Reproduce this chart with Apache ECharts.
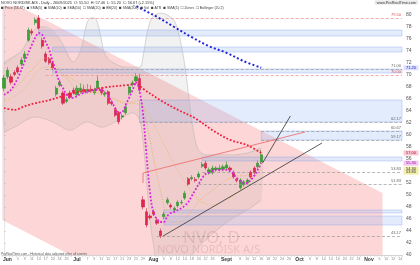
<!DOCTYPE html>
<html><head><meta charset="utf-8">
<script src="https://cdn.jsdelivr.net/npm/echarts@6/dist/echarts.min.js"></script>
<style>html,body{margin:0;padding:0;background:#fff}#c{width:420px;height:265px}</style>
</head><body><div id="c"></div>
<script>
// ---------- data ----------
const dayLists = [
  ['May', [30]],
  ['Jun', [2,3,4,5,6,9,10,11,12,13,16,17,18,20,23,24,25,26,27,30]],
  ['Jul', [1,2,3,7,8,9,10,11,14,15,16,17,18,21,22,23,24,25,28,29,30,31]],
  ['Aug', [1,4,5,6,7,8,11,12,13,14,15,18,19,20,21,22,25,26,27,28,29]],
  ['Sept',[2,3,4,5,8,9,10,11,12,15,16,17,18,19,22,23,24,25,26,29,30]],
  ['Oct', [1,2,3,6,7,8,9,10,13,14,15,16,17,20,21,22,23,24,27,28]],
  ['Nov', [3,4,5,6,7,10,11,12,13,14]]
];
// [open, close, low, high]
const candles = [
 [67.8,69.5,67.3,70.0],[69.7,70.8,69.3,71.3],[69.7,68.8,68.4,70.2],[70.4,70.1,69.8,70.8],[71.2,70.5,70.2,71.6],
 [71.8,72.5,71.5,72.9],[72.8,73.5,72.5,74.0],[75.8,77.5,75.5,77.9],[77.3,77.0,76.6,77.7],[78.7,79.2,78.3,79.6],
 [79.5,77.8,77.5,80.0],[75.8,74.8,74.4,76.2],[73.5,72.3,72.0,73.9],[72.7,72.0,71.7,73.0],[72.0,71.2,70.8,72.3],
 [66.8,67.8,66.4,68.2],[68.3,68.8,68.0,69.2],[67.0,65.3,65.0,67.4],[65.6,65.9,65.3,66.3],[67.0,66.3,66.0,67.4],
 [67.5,67.0,66.7,67.9],[66.7,67.8,66.4,68.3],[67.2,67.8,66.9,68.6],[67.6,67.2,66.9,68.4],[67.2,67.6,66.9,68.5],
 [67.6,67.3,67.0,68.3],[67.0,67.5,66.7,67.9],[67.8,69.0,67.5,69.8],[67.6,67.0,66.7,68.0],[66.7,67.0,66.4,67.3],
 [67.2,65.3,65.0,67.5],[65.5,65.2,64.9,65.8],[64.2,63.3,63.0,64.5],[63.7,62.2,61.8,64.0],[63.0,63.2,62.6,63.5],
 [63.7,64.7,63.4,65.0],[67.0,68.0,66.6,68.4],[68.4,68.7,68.1,69.1],[69.0,69.7,68.7,70.3],[69.4,67.5,67.2,70.2],
 [49.2,48.0,47.6,49.8],[47.2,45.0,44.6,47.8],[46.5,46.2,45.9,46.8],[47.2,46.8,46.5,47.6],[45.8,45.3,45.0,46.2],
 [44.0,43.2,42.8,44.4],[46.4,46.8,46.0,47.2],[48.7,49.2,48.4,49.6],[48.3,48.0,47.7,48.6],[47.5,47.8,47.2,48.1],
 [48.2,48.8,47.9,49.1],[48.7,48.8,48.4,49.2],[49.5,50.3,49.2,50.7],[52.7,51.8,51.5,53.0],[52.7,52.9,52.4,53.3],
 [52.6,52.4,52.1,53.0],[53.0,53.5,52.7,53.9],[54.8,55.1,54.5,55.5],[55.3,54.5,54.2,55.7],[53.7,54.2,53.4,54.6],
 [53.7,54.5,53.4,54.9],[54.2,54.5,53.9,54.8],[54.2,54.5,53.9,55.0],[54.3,54.7,54.0,55.1],[54.5,55.0,54.2,55.6],
 [54.5,54.2,53.9,54.8],[53.8,53.0,52.7,54.1],[52.6,52.4,52.1,52.9],[51.2,52.5,50.9,52.8],[51.7,52.2,51.4,52.5],
 [52.0,52.5,51.7,52.8],[53.8,53.0,52.7,54.1],[54.5,53.7,53.4,54.8],[54.7,55.3,54.4,55.7],[55.5,56.7,55.2,57.5]
];
const sma5 = [[0,66.7],[2,67.5],[4,69.5],[6,72.3],[8,75],[9,76.2],[10,77],[11,76.7],[12,75.5],[13,74.2],[14,72.3],[15,70.5],[16,68.8],[17,67.8],[18,66.7],[19,66.2],[20,66.2],[21,66.5],[22,66.8],[24,67.2],[26,67.5],[28,67.5],[30,66.5],[31,65.5],[32,64.5],[33,63.7],[34,63.8],[35,65],[36,66.2],[37,67.5],[38,68.8],[39,67.3],[40,63.5],[41,56.7],[42,50.5],[43,47],[44,46],[45,45.5],[46,45.5],[47,46.5],[48,47],[49,47.2],[50,47.5],[51,47.8],[52,48.2],[53,48.8],[54,49.8],[55,50.8],[56,51.8],[57,52.8],[58,53.5],[59,53.7],[60,54],[61,54.2],[62,54.2],[63,54.2],[64,54.2],[65,54],[66,53.5],[67,52.8],[68,52.3],[69,52],[70,52],[71,52.5],[72,53.2],[73,54.2],[74,55.3]];
const sma10 = [[0,66.7],[4,68.3],[8,70.8],[12,72.8],[15,71.5],[19,68.8],[22,67.2],[27,67.2],[31,66.3],[35,65.2],[39,65.8],[40,65],[42,59.2],[45,50.8],[48,45.5],[51,45.5],[54,47.5],[57,49.5],[60,50.8],[64,52.5],[68,53.2],[72,53.2],[74,54.3]];
const sma20 = [[0,65.5],[5,67.2],[12,71.3],[19,69.5],[25,67.5],[31,66],[37,65.3],[40,64.8],[44,60.8],[48,56.2],[52,52.2],[56,49.2],[60,48.3],[64,49.2],[68,50.8],[71,52.5],[74,53.8]];
const sma50 = [[0,64.5],[3,64.2],[6,64.8],[9,65.3],[13,65.8],[17,66.5],[20,67],[25,67.5],[30,68],[35,68.3],[38,68.5],[40,67.7],[45,65.8],[50,64.2],[55,62.8],[60,60.8],[65,59.2],[70,58.3],[74,57]];
const sma200 = [[36,82.2],[39,81.2],[44,79.7],[49,78],[54,76.3],[59,74.8],[64,73.7],[69,72.3],[74,71.2]];
const bbUpper = [[0,72],[5,74],[8,77],[10,78],[12,78],[16,76],[20,72.2],[22,74],[23,76.5],[24,78.8],[25,79.5],[26,79.5],[27,78.5],[28,76],[29,73.5],[31,72.2],[35,71.3],[39,71.3],[40,73],[41,76.5],[42,78.8],[43,79.8],[45,80.3],[47,80],[49,79],[50,77.5],[51,75],[52,71.7],[53,67.2],[54,62.5],[55,59.2],[56,57.5],[58,56.7],[62,56.7],[66,56.7],[70,57],[74,57.8]];
const bbLower = [[0,60.5],[3,61.3],[9,63],[14,62.2],[19,60.8],[24,62.2],[28,61.3],[33,62.5],[37,63.7],[39,62.5],[40,59],[41,52.5],[42,45.8],[43,41.7],[44,38.5],[46,36.5],[50,37],[54,40],[58,42.5],[62,44.5],[66,46.2],[70,47.5],[74,49.2]];
// regression channel: upper line, lower line, middle line (start/end)
const channelTop = [[-0.5,82.87],[108.9,50.32]];
const channelBottom = [[-0.5,45.83],[108.9,13.3]];
const channelMid = [[-0.5,64.33],[108.9,31.8]];
// zones: [top, bottom, startIndex]
const zones = [[77.5,76.5,10],[74.67,73.83,14],[71.0,70.33,14],[65.83,62.17,39],[60.67,59.17,74],[56.33,55.67,57],[47.5,47.0,46],[46.5,45.0,46]];
// level lines: [value, startIndex]
const grayLevels = [[71.0,12],[62.17,39],[60.67,74],[59.17,74],[53.83,57],[51.83,56],[43.17,44]];
const redLevels = [[79.5,12],[70.0,12]];
// trend lines
const resistLine = [[40,52.0],[40,53.67],[86.6,60.5]];
const supportA = [[45.8,43.17],[91.5,58.67]];
const supportB = [[74.4,55.33],[82.4,63.17]];

// ---------- build ----------
const categories = [], monthStart = new Set();
dayLists.forEach(([m, ds]) => ds.forEach((d, k) => {
  if (k === 0 && m !== 'May') monthStart.add(categories.length);
  categories.push(m + ' ' + d);
}));
function nearMonth(i){ for (let k=-2;k<=2;k++) if (k!==0 && monthStart.has(i+k)) return true; return false; }
const FONT = 'Liberation Sans';
const chart = echarts.init(document.getElementById('c'), null, {renderer:'canvas'});

function polyClip(params, pts, style){
  const cs = params.coordSys;
  return {type:'group', clipPath:{type:'rect', shape:{x:cs.x, y:cs.y, width:cs.width, height:cs.height}},
    children:[{type:'polygon', shape:{points:pts, smooth: style.smooth||0}, style:{fill:style.fill}}]};
}
function maLine(name, data, color, width, type, z){
  return {name, type:'line', xAxisIndex:1, data, smooth:0.35, showSymbol:false, silent:true, z:z||4,
    lineStyle:{color, width, type}, emphasis:{disabled:true}};
}
function tag(v, bg, fg){
  return {markPoint:{silent:true, data:[{coord:[114.5, v], symbol:'rect', symbolSize:[15,5], symbolOffset:[9,0],
    itemStyle:{color:bg}, label:{show:true, position:'inside', fontSize:4, color:fg, formatter:v.toFixed(2)}}]}};
}

const series = [];
// pink channel
series.push({type:'custom', xAxisIndex:1, z:0, silent:true, data:[0],
  renderItem:(params, api) => {
    const pts = [channelTop[0], channelTop[1], channelBottom[1], channelBottom[0]].map(p => api.coord(p));
    return polyClip(params, pts, {fill:'rgba(250,160,160,0.42)'});
  }});
// Bollinger fill
series.push({type:'custom', xAxisIndex:1, z:1, silent:true, data:[0],
  renderItem:(params, api) => {
    const pts = bbUpper.map(p => api.coord(p)).concat(bbLower.slice().reverse().map(p => api.coord(p)));
    return polyClip(params, pts, {fill:'rgba(110,110,110,0.09)', smooth:0.25});
  }});
series.push(maLine('BB up', bbUpper, '#b8b8b8', 0.6, 'solid', 1));
series.push(maLine('BB low', bbLower, '#c4b4b4', 0.6, 'solid', 1));
// zones and level lines
const lvlLabel = (color, v) => ({show:true, position:'insideEndTop', fontSize:4, color, distance:1, formatter:v.toFixed(2)});
series.push({type:'line', xAxisIndex:1, z:1, data:[[200,0]], silent:true, showSymbol:false,
  markArea:{silent:true, itemStyle:{color:'rgba(140,175,245,0.24)', borderColor:'rgba(120,150,235,0.55)', borderWidth:0.6},
    data: zones.map(z => [{coord:[z[2], z[0]]}, {coord:[114.5, z[1]]}])},
  markLine:{silent:true, symbol:'none', animation:false,
    data: grayLevels.map(l => [{coord:[l[1], l[0]], lineStyle:{color:'#9a9a9a', type:[3,2], width:0.7}, label:lvlLabel('#666', l[0])}, {coord:[114.5, l[0]]}])
      .concat(redLevels.map(l => [{coord:[l[1], l[0]], lineStyle:{color:'#f08a8a', type:[3,2], width:0.7}, label:lvlLabel('#e05050', l[0])}, {coord:[114.5, l[0]]}]))
      .concat([
        [{coord:channelTop[0], lineStyle:{color:'#e85454', width:1, type:'solid'}, label:{show:true, position:'insideEndBottom', fontSize:4, color:'#e04040', borderColor:'#e86060', borderWidth:0.5, padding:[0,1], formatter:'50.32 ▼'}}, {coord:channelTop[1]}],
        [{coord:channelMid[0], lineStyle:{color:'rgba(220,110,110,0.35)', width:0.6, type:'solid'}, label:{show:false}}, {coord:channelMid[1]}]
      ])}
});
// candles
series.push({type:'candlestick', xAxisIndex:0, z:3, data:candles, barWidth:2.7, silent:true,
  itemStyle:{color:'#3aa335', color0:'#e3264d', borderColor:'#2f8f2b', borderColor0:'#cc1f44', borderWidth:0.6}});
// moving averages
series.push(Object.assign(maLine('SMA(20)', sma20, '#e6b75c', 0.8, [1,1.5], 4), tag(sma20[sma20.length-1][1], '#f3eeaa', '#333')));
series.push(Object.assign(maLine('SMA(10)', sma10, '#e0a85a', 0.8, [1,1.5], 4), tag(sma10[sma10.length-1][1], '#f3eeaa', '#333')));
series.push(Object.assign(maLine('SMA(50)', sma50, '#f2203e', 1.8, [1.8,1.8], 5), tag(sma50[sma50.length-1][1], '#f7c7d2', '#c0103a')));
series.push(Object.assign(maLine('SMA(5)', sma5, '#dd22dd', 1.8, [1.8,1.8], 5), tag(sma5[sma5.length-1][1], '#f2c6f2', '#a010a0')));
series.push(Object.assign(maLine('SMA(200)', sma200, '#2424dd', 2, [2,2.2], 5), tag(sma200[sma200.length-1][1], '#dde0ff', '#2020c0')));
// trend lines
const trendLabel = (color, txt) => ({show:true, position:'insideEndTop', fontSize:4, color, borderColor:color, borderWidth:0.5, padding:[0,1], backgroundColor:'rgba(255,255,255,0.6)', formatter:txt});
series.push({type:'line', xAxisIndex:1, z:6, data:resistLine, showSymbol:false, silent:true, lineStyle:{color:'#f07272', width:0.9},
  markLine:{silent:true, symbol:'none', data:[[{coord:resistLine[1], lineStyle:{opacity:0}, label:trendLabel('#e25a5a','60.50')}, {coord:resistLine[2]}]]}});
series.push({type:'line', xAxisIndex:1, z:6, data:supportA, showSymbol:false, silent:true, lineStyle:{color:'#333', width:0.8},
  markLine:{silent:true, symbol:'none', data:[[{coord:supportA[0], lineStyle:{opacity:0}, label:trendLabel('#444','58.67')}, {coord:supportA[1]}]]}});
series.push({type:'line', xAxisIndex:1, z:6, data:supportB, showSymbol:false, silent:true, lineStyle:{color:'#333', width:0.8},
  markLine:{silent:true, symbol:'none', data:[[{coord:supportB[0], lineStyle:{opacity:0}, label:trendLabel('#444','63.17')}, {coord:supportB[1]}]]}});

const legendText = '{r|■} Price (56.67)  {g|■} SMA(5)  {y|■} SMA(10)  {rd|■} SMA(50)  {pk|□} SMA(20)  {g|■} BB(20)  {b|■} SMA(200)  {g|■} Vol  {g|■} ATR  {m|■} SMA(5)  {lv|□} Zones  {g|□} Bollinger (20,2)';
const sq = c => ({color:c, fontSize:4.5});
chart.setOption({
  animation:false,
  textStyle:{fontFamily:FONT},
  grid:{left:0, right:18, top:6, bottom:10},
  xAxis:[
    {type:'category', data:categories, boundaryGap:true,
     axisLine:{lineStyle:{color:'#aaa', width:0.5}},
     axisTick:{show:true, length:2, interval:0, lineStyle:{color:'#c8c8c8', width:0.5}},
     axisLabel:{margin:2, interval:(i) => monthStart.has(i) || (i % 2 === 0 && !nearMonth(i)),
       formatter:(v, i) => { const [m, d] = v.split(' '); return monthStart.has(i) ? '{m|' + m + '}' : '{d|' + d + '}'; },
       rich:{m:{fontSize:5, fontWeight:'bold', color:'#333', fontFamily:FONT}, d:{fontSize:3.6, color:'#888', fontFamily:FONT}}},
     splitLine:{show:false}},
    {type:'value', min:-0.5, max:114.5, show:false}
  ],
  yAxis:{type:'value', position:'right', min:40, max:81.5, interval:2,
    axisLine:{show:true, lineStyle:{color:'#ccc', width:0.5}},
    axisTick:{show:true, length:2, lineStyle:{color:'#bbb', width:0.5}},
    axisLabel:{fontSize:5, color:'#555', margin:4, showMaxLabel:false},
    splitLine:{show:false}},
  graphic:[
    {type:'text', left:1, top:0.5, z:100, silent:true, style:{text:'NOVO NORDISK A/S - Daily - 26/09/2025  O: 55.50  H: 57.46  L: 55.20  C: 56.67 (+2.15%)', fontSize:3.8, fill:'#333', fontFamily:FONT}},
    {type:'text', right:2, top:0.5, z:100, silent:true, style:{text:'www.ProRealTime.com', fontSize:3.8, fill:'#444', fontFamily:FONT, backgroundColor:'#e6e6e6', padding:[0,2]}},
    {type:'text', left:1, top:5.5, z:100, silent:true, style:{text:legendText, fontSize:3.5, fill:'#444', fontFamily:FONT,
      rich:{r:sq('#f05070'), g:sq('#aaa'), y:sq('#e8c020'), rd:sq('#d01030'), pk:sq('#f08080'), b:sq('#2020d0'), m:sq('#d020d0'), lv:sq('#a0a0ff')}}},
    {type:'text', left:183, top:230, z:1, silent:true, style:{text:'NVO, D', fontSize:17, fill:'rgba(190,120,120,0.26)', fontFamily:'Noto Sans'}},
    {type:'text', left:157, top:244.5, z:1, silent:true, style:{text:'NOVO NORDISK A/S', fontSize:11, fill:'rgba(190,120,120,0.28)', fontFamily:'Noto Sans'}},
    {type:'text', left:1, top:252.5, z:100, silent:true, style:{text:'ProRealTime.com - Historical data adjusted after all events', fontSize:3.3, fill:'#555', fontFamily:FONT}}
  ],
  series
});
</script></body></html>
